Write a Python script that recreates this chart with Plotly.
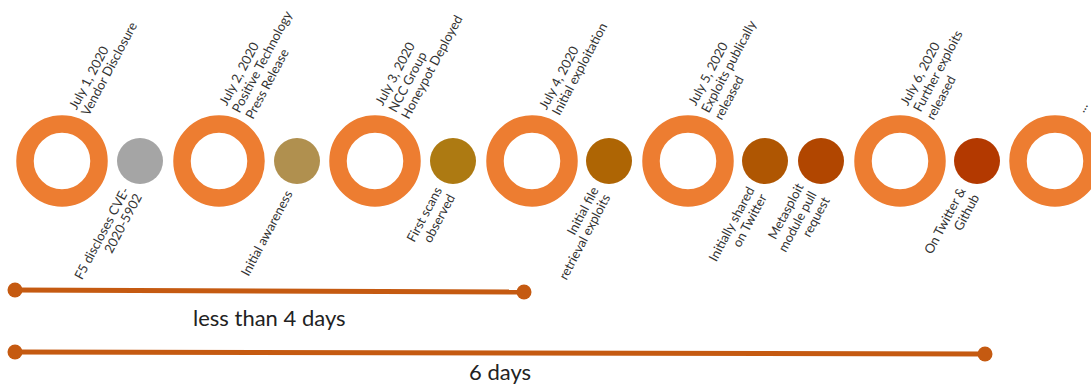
import math
import plotly.graph_objects as go

# ---------------- data ----------------
milestone_labels = [
    ["July 1, 2020", "Vendor Disclosure"],
    ["July 2, 2020", "Positive Technology", "Press Release"],
    ["July 3, 2020", "NCC Group", "Honeypot Deployed"],
    ["July 4, 2020", "Initial exploitation"],
    ["July 5, 2020", "Exploits publically", "released"],
    ["July 6, 2020", "Further exploits", "released"],
    ["..."],
]
milestone_x = [62, 219, 375, 532, 688, 900, 1055]

event_labels = [
    ["F5 discloses CVE-", "2020-5902"],
    ["Initial awareness"],
    ["First scans", "observed"],
    ["Initial file", "retrieval exploits"],
    ["Initially shared", "on Twitter"],
    ["Metasploit", "module pull", "request"],
    ["On Twitter &", "Github"],
]
event_x = [140, 297, 453, 609, 765, 821, 977]
event_colors = ["#A5A5A5", "#B0904F", "#AD7A12", "#AE6504", "#AF5602", "#B14600", "#B33900"]

span_labels = ["less than 4 days", "6 days"]
span_start = [15, 15]
span_end = [524, 985]

# ---------------- layout constants ----------------
W, H = 1091, 387
ROW_Y = 161
SPAN_Y = [290, 352]
SPAN_TXT_DY = [27, 24]
RING = "#ED7D31"
SPAN_COLOR = "#C55A11"
TXT = "#333333"
FONT = "Lato"
FS = 13
ANG = -62
LH = 14.5               # distance between text lines
BOX_H = FS * 1.3 + 2    # plotly single-line annotation box height
SPAN_FS = 22

th = math.radians(-ANG)
nx, ny = math.sin(th), math.cos(th)  # line-advance direction (down-right)

fig = go.Figure()

# rings
fig.add_trace(go.Scatter(
    x=milestone_x, y=[ROW_Y] * len(milestone_x), mode="markers",
    marker=dict(size=74, color="white", line=dict(color=RING, width=17.5)),
    hoverinfo="skip", showlegend=False))

# event dots
fig.add_trace(go.Scatter(
    x=event_x, y=[ROW_Y] * len(event_x), mode="markers",
    marker=dict(size=46, color=event_colors, line=dict(width=0)),
    hoverinfo="skip", showlegend=False))

annotations = []
# upper labels: block centre midline start point at (cx+15, cy-48), lines left aligned
for lines, cx in zip(milestone_labels, milestone_x):
    k = len(lines)
    for i, t in enumerate(lines):
        off = (i - (k - 1) / 2) * LH
        sx = cx + 15 + off * nx
        sy = ROW_Y - 48 + off * ny
        if t == "...":
            sx += 8
        annotations.append(dict(
            x=sx - nx * BOX_H / 2, y=sy + ny * BOX_H / 2,
            xref="x", yref="y", text=t, showarrow=False, textangle=ANG,
            xanchor="left", yanchor="bottom",
            font=dict(family=FONT, size=FS, color=TXT)))

# lower labels: block centre midline end point at (cx-7, cy+28), lines right aligned
for lines, cx in zip(event_labels, event_x):
    k = len(lines)
    for i, t in enumerate(lines):
        off = (i - (k - 1) / 2) * LH
        mx = cx - 7 + off * nx
        my = ROW_Y + 28 + off * ny
        annotations.append(dict(
            x=mx + nx * BOX_H / 2, y=my - ny * BOX_H / 2,
            xref="x", yref="y", text=t, showarrow=False, textangle=ANG,
            xanchor="right", yanchor="top",
            font=dict(family=FONT, size=FS, color=TXT)))

# spans
for lab, x0, x1, yy, dy in zip(span_labels, span_start, span_end, SPAN_Y, SPAN_TXT_DY):
    fig.add_trace(go.Scatter(
        x=[x0, x1], y=[yy, yy + 2], mode="lines+markers",
        line=dict(color=SPAN_COLOR, width=5),
        marker=dict(size=15, color=SPAN_COLOR),
        hoverinfo="skip", showlegend=False))
    # keep the text box inside the canvas
    ty = min(yy + dy, H - 0.5 - SPAN_FS * 1.3 / 2 - 1)
    annotations.append(dict(
        x=(x0 + x1) / 2, y=ty, xref="x", yref="y", text=lab,
        showarrow=False, xanchor="center", yanchor="middle",
        font=dict(family=FONT, size=SPAN_FS, color="#222222")))

fig.update_layout(
    width=W, height=H, margin=dict(l=0, r=0, t=0, b=0),
    paper_bgcolor="white", plot_bgcolor="white",
    xaxis=dict(range=[0, W], visible=False, fixedrange=True),
    yaxis=dict(range=[H, 0], visible=False, fixedrange=True),
    annotations=annotations, showlegend=False)

fig.write_html("out.html", config={"displayModeBar": False},
               post_script="document.body.style.margin='0';document.body.style.overflow='hidden';")
